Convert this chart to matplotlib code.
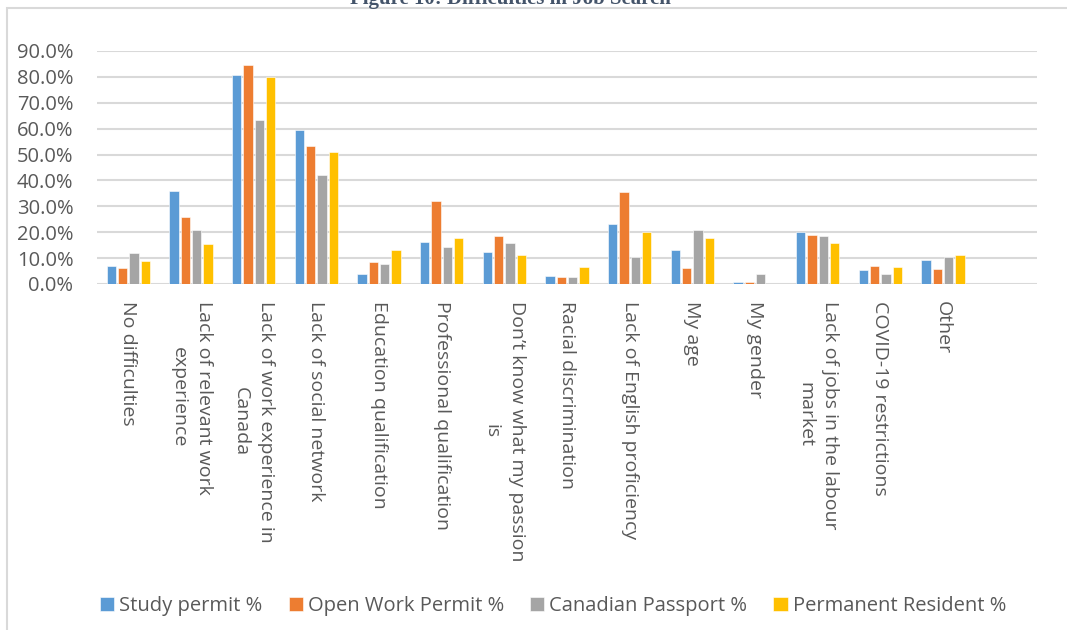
import numpy as np
import matplotlib
matplotlib.use("Agg")
from matplotlib import pyplot as plt
from matplotlib.patches import Rectangle

plt.rcParams['font.family'] = ['Open Sans', 'DejaVu Sans']

### DATA ###
categories = [
    "No difficulties",
    "Lack of relevant work\nexperience",
    "Lack of work experience in\nCanada",
    "Lack of social network",
    "Education qualification",
    "Professional qualification",
    "Don\u2019t know what my passion\nis",
    "Racial discrimination",
    "Lack of English proficiency",
    "My age",
    "My gender",
    "Lack of jobs in the labour\nmarket",
    "COVID-19 restrictions",
    "Other",
    "",
]

study_permit = [6.8, 36.1, 80.7, 59.3, 3.7, 16.2, 12.2, 3.1, 23.1, 13.1, 0.8, 20.0, 5.5, 9.1, 0]
open_work = [6.0, 25.8, 84.4, 53.2, 8.6, 31.9, 18.6, 2.8, 35.5, 6.0, 0.9, 19.0, 7.1, 5.7, 0]
canadian_passport = [11.8, 21.0, 63.2, 42.2, 7.8, 14.4, 15.8, 2.6, 10.5, 21.0, 4.0, 18.4, 4.0, 10.5, 0]
permanent_resident = [9.0, 15.6, 80.0, 51.0, 13.2, 17.7, 11.1, 6.7, 20.0, 17.9, 0, 15.7, 6.7, 11.1, 0]

series_names = ["Study permit %", "Open Work Permit %", "Canadian Passport %", "Permanent Resident %"]
series_colors = ["#5B9BD5", "#ED7D31", "#A5A5A5", "#FFC000"]
yticks = np.arange(0, 91, 10)

### FIGURE ###
fig = plt.figure(figsize=(10.67, 6.3), dpi=100)
ax = fig.add_axes([97/1067, 1 - 284/630, 940/1067, 233/630])

x = np.arange(len(categories))
step = 0.181
width = 0.145
all_series = [study_permit, open_work, canadian_passport, permanent_resident]
for i, (vals, name, col) in enumerate(zip(all_series, series_names, series_colors)):
    ax.bar(x + (i - 1.5) * step, vals, width, color=col, label=name,
           edgecolor='white', linewidth=0.4, zorder=3)

ax.set_xlim(-0.5, len(categories) - 0.5)
ax.set_ylim(0, 90)
ax.set_yticks(yticks)
ax.set_yticklabels(["%.1f%%" % v for v in yticks])
ax.yaxis.grid(True, color='#D9D9D9', linewidth=1.5, zorder=0)
ax.set_axisbelow(True)
for s in ax.spines.values():
    s.set_visible(False)
ax.tick_params(axis='both', length=0, labelcolor='#595959')
ax.tick_params(axis='y', pad=17, labelsize=14.5)

ax.set_xticks(x)
ax.set_xticklabels(categories, rotation=270, ha='center', va='top',
                   multialignment='center', linespacing=1.5)
ax.tick_params(axis='x', pad=12, labelsize=14)

# outer chart frame
fig.patches.append(Rectangle((7/1067, -0.1), 1.2, 1 - 8/630 + 0.1,
                             transform=fig.transFigure, fill=False,
                             edgecolor='#D9D9D9', linewidth=1.5))

fig.text(510/1067, 1 - 4/630, "Figure 10: Difficulties in Job Search",
         ha='center', va='baseline', fontsize=15, fontweight='bold',
         family='Liberation Serif', color='#44546A')

ax.legend(loc='center', bbox_to_anchor=(553/1067, 1 - 606/630),
          bbox_transform=fig.transFigure, ncol=4, frameon=False,
          fontsize=14.5, labelcolor='#595959', handlelength=0.7,
          handleheight=0.7, handletextpad=0.25, columnspacing=1.3)

fig.savefig("out.png", dpi=100)
